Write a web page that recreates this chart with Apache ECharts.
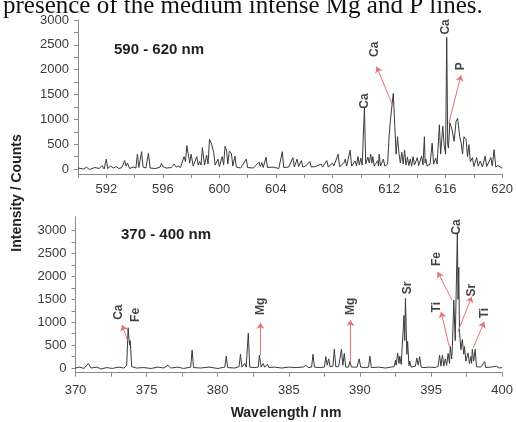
<!DOCTYPE html>
<html><head><meta charset="utf-8">
<script src="https://cdn.jsdelivr.net/npm/echarts@6/dist/echarts.min.js"></script>
<style>html,body{margin:0;padding:0;background:#fff}#c{width:516px;height:422px}</style>
</head><body><div id="c"></div>
<script>
// ---- data ----
const topWavelength = [590.0,590.4,590.6,590.8,591.2,591.5,591.7,591.85,592.0,592.1,592.3,592.5,592.7,592.9,593.1,593.3,593.4,593.5,593.65,593.9,594.1,594.2,594.3,594.5,594.6,594.8,594.98,595.1,595.5,595.8,595.9,596.0,596.1,596.25,596.6,596.8,596.95,597.1,597.25,597.5,597.6,597.7,597.8,597.9,598.0,598.15,598.4,598.5,598.6,598.7,598.8,598.95,599.1,599.2,599.3,599.45,599.6,599.7,599.9,600.0,600.2,600.3,600.4,600.5,600.6,600.7,600.85,600.95,601.1,601.2,601.5,601.9,602.0,602.4,602.8,602.9,603.0,603.1,603.3,603.4,603.8,604.2,604.45,604.55,604.9,605.2,605.3,605.5,605.6,605.8,605.9,606.1,606.4,606.5,606.8,607.2,607.3,607.6,607.7,608.0,608.1,608.4,608.5,608.8,608.9,609.0,609.25,609.35,609.6,609.7,609.8,609.9,610.0,610.1,610.26,610.35,610.5,610.6,610.7,610.78,610.85,610.95,611.2,611.25,611.3,611.4,611.6,611.7,611.9,612.0,612.1,612.2,612.3,612.4,612.5,612.6,612.7,612.8,612.9,613.0,613.1,613.2,613.3,613.4,613.5,613.6,613.7,613.8,614.0,614.1,614.3,614.4,614.5,614.55,614.6,614.7,614.9,615.05,615.15,615.3,615.4,615.56,615.65,615.8,615.9,616.0,616.08,616.15,616.2,616.3,616.45,616.6,616.74,616.85,617.0,617.1,617.2,617.3,617.45,617.55,617.65,617.75,617.9,618.0,618.2,618.3,618.45,618.6,618.8,618.9,619.2,619.3,619.43,619.55,619.7,620.0];
const topCounts = [20,0,40,-10,30,10,70,0,200,10,60,20,50,10,30,170,60,120,10,40,20,300,30,350,40,20,320,20,10,40,110,50,80,20,30,100,40,60,30,250,150,470,480,120,300,60,250,80,150,80,430,80,280,100,600,500,330,80,200,50,250,80,460,380,100,360,320,60,260,40,20,200,30,20,140,50,130,30,240,30,40,10,350,30,40,230,40,200,50,170,40,60,150,40,50,100,40,170,40,120,60,300,50,120,200,60,380,60,160,60,250,80,220,80,1230,100,240,120,300,120,250,60,170,60,300,60,200,60,100,650,990,1260,1520,900,300,650,320,120,340,100,380,80,240,70,200,60,250,80,230,70,260,80,650,120,200,60,100,520,100,220,100,890,300,860,480,300,2650,500,420,930,800,560,960,1020,650,530,300,650,590,250,490,150,230,50,230,60,160,40,260,50,230,60,390,40,70,20];

const botWavelength = [370.0,370.3,370.6,370.9,371.1,371.5,371.8,372.2,372.6,373.0,373.4,373.6,373.7,373.8,373.85,373.95,374.3,374.8,375.3,375.8,376.2,376.5,376.7,377.2,377.6,378.1,378.2,378.3,378.8,379.4,380.0,380.5,380.6,380.7,381.2,381.5,381.6,381.7,381.8,381.9,382.0,382.15,382.25,382.6,382.85,382.93,383.05,383.2,383.3,383.5,383.6,384.0,384.5,385.0,385.5,386.0,386.2,386.35,386.6,386.7,386.8,387.2,387.5,387.6,387.7,387.8,387.9,388.1,388.2,388.3,388.5,388.7,388.8,388.9,389.0,389.2,389.3,389.4,389.8,389.95,390.05,390.4,390.6,390.7,390.8,391.3,391.8,392.2,392.4,392.5,392.55,392.65,392.75,392.8,392.9,393.0,393.1,393.15,393.2,393.3,393.35,393.45,393.5,393.6,393.9,394.0,394.1,394.2,394.3,394.4,394.5,394.9,395.3,395.5,395.6,395.7,395.8,395.9,396.0,396.1,396.2,396.3,396.35,396.45,396.5,396.6,396.7,396.85,396.9,396.95,397.0,397.1,397.2,397.3,397.35,397.45,397.6,397.7,397.8,397.85,397.9,398.0,398.1,398.2,398.5,398.77,398.85,399.2,399.6,399.8,400.0];
const botCounts = [0,20,-10,100,0,20,-20,10,-10,20,0,60,880,500,600,30,0,10,-10,20,0,60,0,20,-10,20,390,10,0,20,-10,20,260,10,0,30,300,20,40,100,20,760,20,10,20,280,20,100,20,80,10,20,0,20,10,20,60,10,20,300,20,10,20,250,60,200,30,40,410,30,30,410,60,320,20,20,150,20,20,200,20,10,20,260,10,20,0,20,30,170,60,330,100,260,80,100,1150,600,1520,300,580,50,150,20,40,220,60,250,20,50,10,20,10,40,280,40,280,40,200,60,320,100,470,200,470,1480,600,2940,1500,2200,790,400,620,300,470,150,330,100,250,100,410,150,410,30,20,140,10,20,40,0,10];

const topXLabels = [592,596,600,604,608,612,616,620];
const botXLabels = [370,375,380,385,390,395,400];
const yLabels = [0,500,1000,1500,2000,2500,3000];

// annotations: [text, wavelength, counts]
const topNotes = [['Ca',610.26,1370],['Ca',610.98,2410],['Ca',616.04,2860],['P',617.09,2070]];
const botNotes = [['Ca',373.02,1220],['Fe',374.2,1160],['Mg',383.04,1350],['Mg',389.34,1350],['Sr',393.35,1750],['Ti',395.43,1330],['Fe',395.43,2380],['Ca',396.82,3080],['Sr',397.86,1700],['Ti',398.78,1200]];
// arrows: [fromWl, fromCounts, toWl, toCounts]
const topArrows = [[612.3,1250,611.12,2060],[616.23,925,617.09,1890]];
const botArrows = [[373.65,610,373.28,940],[383.0,280,383.0,990],[389.34,110,389.34,1050],[396.28,465,395.71,1230],[396.47,1485,395.47,2100],[396.89,790,397.86,1560],[397.97,440,398.74,1010]];

const zip = (a,b)=>a.map((v,i)=>[v,b[i]]);
const axisCol = '#8a8a8a';
const labFont = {color:'#3a3a3a', fontSize:13, fontFamily:'Liberation Sans, Arial'};

function xAxis(gi,min,max,labels,tickStep){
  const ticks=[]; for(let v=min; v<=max+1e-9; v+=tickStep) ticks.push(+v.toFixed(2));
  return {type:'value', gridIndex:gi, min, max,
    axisLine:{show:true,onZero:false,lineStyle:{color:axisCol,width:1}},
    axisTick:{show:true,length:4,inside:false,customValues:ticks,lineStyle:{color:axisCol}},
    axisLabel:Object.assign({customValues:labels,margin:gi===0?9:11,formatter:v=>String(v)},labFont),
    splitLine:{show:false}};
}
function yAxis(gi,min,max){
  const ticks=[]; for(let v=0; v<=3000; v+=250) ticks.push(v);
  return {type:'value', gridIndex:gi, min, max,
    axisLine:{show:true,onZero:false,lineStyle:{color:axisCol,width:1}},
    axisTick:{show:true,length:4,customValues:ticks,lineStyle:{color:axisCol}},
    axisLabel:Object.assign({customValues:yLabels,margin:9,formatter:v=>String(v)},labFont),
    splitLine:{show:false}};
}
function noteSeries(gi,notes){
  return {type:'scatter', xAxisIndex:gi, yAxisIndex:gi, symbolSize:2, itemStyle:{color:'rgba(0,0,0,0)'}, z:5,
    data:notes.map(n=>({value:[n[1],n[2]], name:n[0]})),
    labelLayout:{hideOverlap:false},
    label:{show:true, position:'inside', rotate:90, formatter:p=>p.name, color:'#111',
      fontSize:12, fontWeight:'bold', fontFamily:'Liberation Sans, Arial', align:'center', verticalAlign:'middle'}};
}
function arrowSeries(gi,arrows){
  return {type:'lines', coordinateSystem:'cartesian2d', xAxisIndex:gi, yAxisIndex:gi, z:4,
    symbol:['none','arrow'], symbolSize:6,
    lineStyle:{color:'#e57373',width:1,opacity:1},
    data:arrows.map(a=>({coords:[[a[0],a[1]],[a[2],a[3]]]}))};
}

const chart = echarts.init(document.getElementById('c'), null, {renderer:'canvas'});
chart.setOption({
  animation:false,
  backgroundColor:'#fff',
  grid:[{left:78,right:9,top:20,height:154},{left:75.5,right:9,top:217,height:155.6}],
  xAxis:[xAxis(0,590,620,topXLabels,2), xAxis(1,370,400,botXLabels,2.5)],
  yAxis:[yAxis(0,-100,3000), yAxis(1,-100,3300)],
  series:[
    {type:'line', xAxisIndex:0, yAxisIndex:0, data:zip(topWavelength,topCounts), showSymbol:false, symbol:'none',
      lineStyle:{color:'#3a3a3a',width:1}},
    {type:'line', xAxisIndex:1, yAxisIndex:1, data:zip(botWavelength,botCounts), showSymbol:false, symbol:'none',
      lineStyle:{color:'#3a3a3a',width:1}},
    arrowSeries(0,topArrows), arrowSeries(1,botArrows),
    noteSeries(0,topNotes), noteSeries(1,botNotes)
  ],
  graphic:[
    {type:'text', x:3, y:6.5, style:{text:'presence of the medium intense Mg and P lines.', font:'25px "Liberation Serif", serif', fill:'#111', textVerticalAlign:'middle'}},
    {type:'text', x:159, y:50, style:{text:'590 - 620 nm', font:'bold 15px "Liberation Sans", Arial', fill:'#222', textAlign:'center', textVerticalAlign:'middle'}},
    {type:'text', x:166, y:235, style:{text:'370 - 400 nm', font:'bold 15px "Liberation Sans", Arial', fill:'#222', textAlign:'center', textVerticalAlign:'middle'}},
    {type:'text', x:17, y:193, rotation:Math.PI/2, style:{text:'Intensity / Counts', font:'bold 14px "Liberation Sans", Arial', fill:'#222', textAlign:'center', textVerticalAlign:'middle'}},
    {type:'text', x:286, y:413, style:{text:'Wavelength / nm', font:'bold 14px "Liberation Sans", Arial', fill:'#222', textAlign:'center', textVerticalAlign:'middle'}}
  ]
});
</script></body></html>
